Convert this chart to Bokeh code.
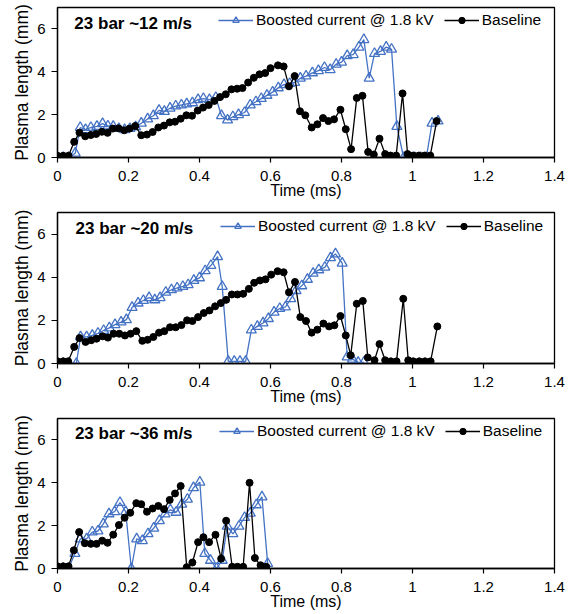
from bokeh.plotting import figure
from bokeh.layouts import column
from bokeh.models import Range1d, FixedTicker, NumeralTickFormatter, Legend, LegendItem, Label
from bokeh.embed import file_html
from bokeh.resources import INLINE

# ---------------- data ----------------
titles = ["23 bar ~12 m/s", "23 bar ~20 m/s", "23 bar ~36 m/s"]
x_ticks = [0, 0.2, 0.4, 0.6, 0.8, 1.0, 1.2, 1.4]
y_ticks = [0, 2, 4, 6]
boost_label = "Boosted current @ 1.8 kV"
base_label = "Baseline"

# panel 1 (~12 m/s)
t_boost_12 = [0, 0.016, 0.031, 0.05, 0.064, 0.079, 0.094, 0.111, 0.127, 0.142,
              0.157, 0.173, 0.189, 0.204, 0.22, 0.236, 0.254, 0.27, 0.286, 0.301,
              0.317, 0.333, 0.349, 0.364, 0.38, 0.396, 0.411, 0.428, 0.446, 0.462,
              0.479, 0.494, 0.51, 0.527, 0.543, 0.559, 0.574, 0.59, 0.606, 0.622,
              0.638, 0.654, 0.668, 0.684, 0.7, 0.718, 0.735, 0.752, 0.768, 0.785,
              0.8, 0.816, 0.833, 0.849, 0.863, 0.878, 0.893, 0.91, 0.926, 0.941,
              0.956, 0.975, 0.99, 1.006, 1.023, 1.039, 1.055, 1.072]
v_boost_12 = [0, 0, 0, 0.2, 1.4, 1.3, 1.4, 1.45, 1.58, 1.47,
              1.45, 1.35, 1.3, 1.35, 1.43, 1.6, 1.8, 1.95, 2.2, 2.15,
              2.3, 2.4, 2.45, 2.5, 2.55, 2.7, 2.75, 2.7, 2.8, 1.95,
              1.75, 1.9, 2.0, 2.1, 2.45, 2.6, 2.75, 2.9, 3.05, 3.25,
              3.4, 3.45, 3.5, 3.7, 3.8, 3.95, 4.05, 4.2, 4.1, 4.35,
              4.45, 4.75, 4.8, 5.15, 5.5, 3.7, 4.85, 4.95, 5.15, 5.05,
              1.45, 0, 0, 0, 0, 0, 1.6, 1.7]
t_base_12 = [0, 0.016, 0.031, 0.047, 0.062, 0.078, 0.094, 0.109, 0.125, 0.141,
             0.156, 0.172, 0.188, 0.203, 0.219, 0.236, 0.252, 0.268, 0.284, 0.3,
             0.316, 0.331, 0.347, 0.363, 0.379, 0.395, 0.41, 0.426, 0.442, 0.458,
             0.474, 0.49, 0.506, 0.521, 0.537, 0.553, 0.569, 0.585, 0.6, 0.621,
             0.637, 0.652, 0.668, 0.683, 0.698, 0.716, 0.732, 0.748, 0.763, 0.779,
             0.797, 0.812, 0.827, 0.843, 0.859, 0.875, 0.891, 0.907, 0.923, 0.938,
             0.954, 0.972, 0.986, 1.002, 1.018, 1.034, 1.05, 1.068]
v_base_12 = [0.08, 0.08, 0.08, 0.73, 1.16, 0.99, 1.05, 1.1, 1.2, 1.15,
             1.35, 1.36, 1.27, 1.35, 1.47, 1.04, 1.07, 1.19, 1.4, 1.49,
             1.64, 1.67, 1.81, 1.97, 1.95, 2.19, 2.33, 2.45, 2.64, 2.82,
             2.95, 3.18, 3.21, 3.24, 3.5, 3.72, 3.88, 3.94, 4.17, 4.3,
             4.25, 3.32, 3.8, 2.16, 1.97, 1.4, 1.55, 1.84, 1.7, 1.78,
             2.23, 1.32, 0.39, 2.78, 2.88, 0.26, 0.14, 0.88, 0.16, 0.09,
             0.09, 2.99, 0.16, 0.09, 0.09, 0.09, 0.09, 1.7]

# panel 2 (~20 m/s)
t_boost_20 = [0, 0.016, 0.032, 0.053, 0.065, 0.082, 0.098, 0.114, 0.13, 0.146,
              0.162, 0.179, 0.194, 0.21, 0.227, 0.242, 0.258, 0.274, 0.289, 0.305,
              0.321, 0.337, 0.353, 0.368, 0.384, 0.4, 0.416, 0.432, 0.451, 0.464,
              0.481, 0.498, 0.514, 0.53, 0.546, 0.563, 0.579, 0.594, 0.61, 0.626,
              0.642, 0.657, 0.672, 0.688, 0.704, 0.72, 0.736, 0.753, 0.769, 0.783,
              0.802, 0.816, 0.831, 0.847, 0.863]
v_boost_20 = [0, 0, 0, 0, 1.23, 1.23, 1.3, 1.4, 1.53, 1.65,
              1.8, 1.92, 2.03, 2.6, 2.8, 2.92, 3.05, 2.95, 3.05, 3.3,
              3.42, 3.5, 3.57, 3.65, 3.85, 3.97, 4.3, 4.54, 4.95, 3.57,
              0.1, 0.1, 0.1, 0.1, 1.55, 1.72, 1.88, 2.08, 2.38, 2.55,
              2.62, 3.0, 3.38, 3.6, 3.9, 4.18, 4.34, 4.46, 4.9, 5.08,
              4.65, 0.3, 0.2, 0.05, 0.05]
t_base_20 = [0, 0.016, 0.03, 0.047, 0.062, 0.079, 0.095, 0.11, 0.127, 0.142,
             0.158, 0.174, 0.19, 0.206, 0.222, 0.239, 0.254, 0.27, 0.286, 0.301,
             0.317, 0.333, 0.349, 0.365, 0.38, 0.396, 0.412, 0.428, 0.444, 0.46,
             0.475, 0.491, 0.507, 0.523, 0.539, 0.554, 0.57, 0.586, 0.602, 0.62,
             0.637, 0.652, 0.669, 0.684, 0.7, 0.716, 0.732, 0.749, 0.765, 0.78,
             0.797, 0.812, 0.826, 0.843, 0.86, 0.874, 0.893, 0.907, 0.923, 0.939,
             0.955, 0.974, 0.988, 1.002, 1.019, 1.035, 1.051, 1.07]
v_base_20 = [0.1, 0.1, 0.1, 0.77, 1.18, 1.0, 1.08, 1.15, 1.26, 1.2,
             1.38, 1.38, 1.3, 1.38, 1.5, 1.05, 1.1, 1.23, 1.43, 1.5,
             1.68, 1.68, 1.78, 2.0, 1.97, 2.15, 2.34, 2.46, 2.65, 2.8,
             2.95, 3.2, 3.2, 3.23, 3.46, 3.74, 3.85, 3.9, 4.12, 4.28,
             4.23, 3.3, 3.78, 2.15, 1.97, 1.43, 1.57, 1.85, 1.72, 1.77,
             2.2, 1.3, 0.38, 2.77, 2.9, 0.28, 0.15, 0.9, 0.15, 0.1,
             0.1, 3.0, 0.15, 0.1, 0.1, 0.1, 0.1, 1.72]

# panel 3 (~36 m/s)
t_boost_36 = [0, 0.016, 0.031, 0.049, 0.064, 0.082, 0.098, 0.114, 0.129, 0.145,
              0.161, 0.176, 0.192, 0.208, 0.223, 0.239, 0.255, 0.271, 0.287, 0.303,
              0.318, 0.334, 0.35, 0.366, 0.383, 0.401, 0.415, 0.431, 0.448, 0.464,
              0.478, 0.494, 0.511, 0.527, 0.543, 0.56, 0.576, 0.592]
v_boost_36 = [0, 0, 0, 0.7, 1.38, 1.38, 1.7, 1.75, 2.08, 2.55,
              2.65, 3.08, 2.65, 0, 1.38, 1.3, 1.62, 1.88, 2.23, 2.54,
              2.74, 2.62, 3.0, 3.23, 3.77, 4.03, 0.7, 0.38, 0, 0.38,
              1.97, 1.62, 1.97, 2.38, 2.58, 2.97, 3.34, 0.23]
t_base_36 = [0, 0.016, 0.031, 0.046, 0.061, 0.077, 0.094, 0.11, 0.126, 0.141,
             0.157, 0.173, 0.189, 0.205, 0.222, 0.236, 0.252, 0.268, 0.284, 0.3,
             0.316, 0.331, 0.347, 0.364, 0.38, 0.396, 0.411, 0.427, 0.445, 0.461,
             0.475, 0.492, 0.507, 0.523, 0.541, 0.556, 0.572, 0.588]
v_base_36 = [0.1, 0.1, 0.1, 0.85, 1.7, 1.18, 1.15, 1.15, 1.3, 1.2,
             1.58, 2.03, 2.37, 2.6, 3.05, 3.0, 2.65, 2.8, 2.92, 2.77,
             3.2, 3.5, 3.85, 0.06, 0.28, 1.23, 1.46, 1.23, 1.57, 0.46,
             2.23, 0.08, 0.08, 0.08, 4.0, 0.49, 0.15, 0.08]

# ---------------- style ----------------
FONT = "Liberation Sans"
BLUE = "#4472C4"


def make_panel(title, tb, vb, tbase, vbase, height, bl, br, bt, bb, title_xy, leg_loc):
    p = figure(width=566, height=height, x_range=Range1d(0, 1.4), y_range=Range1d(0, 7),
               output_backend="svg", toolbar_location=None,
               min_border_left=bl, min_border_right=br, min_border_top=bt, min_border_bottom=bb)
    p.background_fill_color = "white"
    p.border_fill_color = "white"
    p.outline_line_color = "black"
    p.outline_line_width = 1.3
    p.xgrid.visible = False
    p.ygrid.visible = False

    for ax in (p.xaxis[0], p.yaxis[0]):
        ax.axis_line_color = "black"
        ax.axis_line_width = 1.3
        ax.major_tick_line_color = "black"
        ax.major_tick_line_width = 1.2
        ax.major_tick_in = 0
        ax.minor_tick_line_color = None
        ax.major_label_text_font = FONT
        ax.major_label_text_font_size = "15px"
        ax.major_label_text_color = "black"
        ax.axis_label_text_font = FONT
        ax.axis_label_text_font_style = "normal"
        ax.axis_label_text_color = "black"

    xa = p.xaxis[0]
    xa.ticker = FixedTicker(ticks=x_ticks)
    xa.formatter = NumeralTickFormatter(format="0.[0]")
    xa.major_tick_out = 5
    xa.major_label_standoff = 8
    xa.axis_label = "Time (ms)"
    xa.axis_label_text_font_size = "16px"
    xa.axis_label_standoff = -2

    ya = p.yaxis[0]
    ya.ticker = FixedTicker(ticks=y_ticks)
    ya.formatter = NumeralTickFormatter(format="0")
    ya.major_tick_out = 6
    ya.major_label_standoff = 6
    ya.axis_label = "Plasma length (mm)"
    ya.axis_label_text_font_size = "17.5px"
    ya.axis_label_standoff = 2

    lb = p.line(tb, vb, line_color=BLUE, line_width=1.3)
    sb = p.scatter(tb, vb, marker="triangle", size=10, line_color=BLUE, line_width=1.3,
                   fill_color=None)
    l0 = p.line(tbase, vbase, line_color="black", line_width=1.3)
    s0 = p.scatter(tbase, vbase, marker="circle", size=7, line_color="black", fill_color="black")

    legend = Legend(items=[LegendItem(label=boost_label, renderers=[lb, sb]),
                           LegendItem(label=base_label, renderers=[l0, s0])],
                    orientation="horizontal", location=leg_loc, padding=0, margin=0,
                    spacing=10, label_standoff=3, glyph_width=35, glyph_height=16,
                    label_height=16, border_line_color=None, background_fill_alpha=0,
                    label_text_font=FONT, label_text_font_size="15.5px",
                    label_text_color="black")
    p.add_layout(legend)

    p.add_layout(Label(x=title_xy[0], y=title_xy[1], text=title, text_font=FONT,
                       text_font_size="17px", text_font_style="bold",
                       text_baseline="middle", text_align="left", text_color="black"))
    return p


p1 = make_panel(titles[0], t_boost_12, v_boost_12, t_base_12, v_base_12,
                205, 57, 8, 7, 48, (0.0475, 6.24), (161, 128))
p2 = make_panel(titles[1], t_boost_20, v_boost_20, t_base_20, v_base_20,
                206, 55, 10, 7, 48, (0.051, 6.24), (163, 128))
p3 = make_panel(titles[2], t_boost_36, v_boost_36, t_base_36, v_base_36,
                201, 53, 12, 7, 44, (0.049, 6.29), (162, 128))

layout = column(p1, p2, p3)
open("out.html", "w").write(file_html(layout, INLINE))
